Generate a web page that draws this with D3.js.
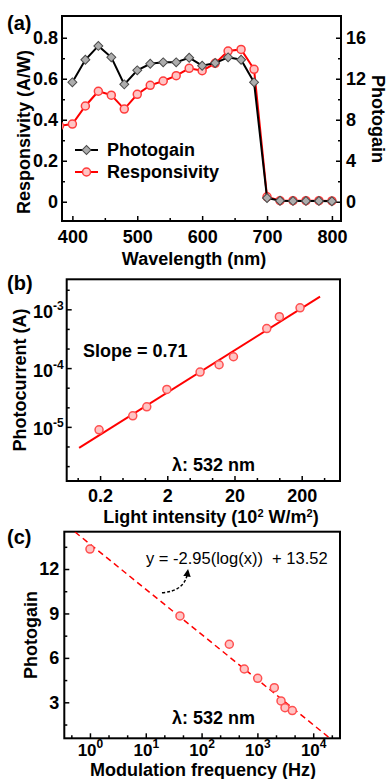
<!DOCTYPE html>
<html>
<head>
<meta charset="UTF-8" />
<title>Photodetector figure</title>
<script src="https://d3js.org/d3.v7.min.js"></script>
<style>
  body { margin: 0; background: #fff; }
  text { font-family: "Liberation Sans", Arial, sans-serif; font-weight: bold; }
</style>
</head>
<body>
<div id="fig"></div>
<script>
  // ---- (a) spectral response ----
  const gainWavelengths = [400, 420, 440, 460, 480, 500, 520, 540, 560, 580, 600, 620, 640, 660, 680, 700, 720, 740, 760, 780, 800];
  const photogain = [11.65, 13.85, 15.2, 14.09, 11.45, 12.82, 13.46, 13.6, 13.6, 14.05, 13.27, 13.53, 14.09, 13.85, 11.65, 0.36, 0.1, 0.08, 0.08, 0.08, 0.05];
  const respWavelengths = [380, 400, 420, 440, 460, 480, 500, 520, 540, 560, 580, 600, 620, 640, 660, 680, 700, 720, 740, 760, 780, 800];
  const responsivity = [0.37, 0.379, 0.467, 0.539, 0.52, 0.452, 0.524, 0.568, 0.589, 0.615, 0.651, 0.639, 0.675, 0.735, 0.743, 0.646, 0.024, 0.005, 0.005, 0.005, 0.005, 0.004];
  const aXTicks = [400, 500, 600, 700, 800];
  const aXMinor = [450, 550, 650, 750];
  const aLeftTicks = [0, 0.2, 0.4, 0.6, 0.8];
  const aLeftMinor = [0.1, 0.3, 0.5, 0.7];
  const aRightTicks = [0, 4, 8, 12, 16];
  const aRightMinor = [2, 6, 10, 14];

  // ---- (b) intensity dependence ----
  const intensity = [0.193, 0.613, 0.99, 1.97, 6.15, 11.8, 19.3, 60.4, 93, 189];
  const photocurrent = [8.9e-6, 1.54e-5, 2.19e-5, 4.34e-5, 8.55e-5, 1.14e-4, 1.56e-4, 4.7e-4, 7.5e-4, 1.06e-3];
  const fitB = [[0.0975, 4.4e-6], [375, 1.64e-3]];
  const bXTicks = [0.2, 2, 20, 200];
  const bXMinor = [0.0928, 0.431, 0.928, 4.31, 9.28, 43.1, 92.8, 431];
  const bYTicks = [1e-5, 1e-4, 1e-3];
  const bYMinor = [2.15e-6, 4.64e-6, 2.15e-5, 4.64e-5, 2.15e-4, 4.64e-4, 2.15e-3];

  // ---- (c) frequency dependence ----
  const frequency = [1, 41, 314, 582, 1012, 2010, 2650, 3125, 4220];
  const gainC = [13.35, 8.83, 6.92, 5.25, 4.62, 3.99, 3.09, 2.64, 2.44];
  const fitC = [[0.54, 14.5], [20000, 0.57]];
  const arrowC = [[19.5, 10.4], [50, 10.5], [56, 11.75]];
  const cXTicks = [1, 10, 100, 1000, 10000];
  const cXMinor = [0.464, 2.15, 4.64, 21.5, 46.4, 215, 464, 2154, 4642, 21544];
  const cYTicks = [3, 6, 9, 12];
  const cYMinor = [1.5, 4.5, 7.5, 10.5, 13.5];

  const svg = d3.select("#fig").append("svg")
    .attr("width", 387)
    .attr("height", 779);

  // draws one axis from a generator, ticks pointing inside the frame
  function addAxis(gen, tx, ty, fontSize) {
    const g = svg.append("g")
      .attr("transform", "translate(" + tx + "," + ty + ")")
      .call(gen);
    g.select(".domain").remove();
    g.selectAll("line").attr("stroke", "#000").attr("stroke-width", 1.5);
    g.selectAll("text")
      .attr("fill", "#000")
      .attr("font-size", fontSize || 18)
      .attr("font-family", '"Liberation Sans", Arial, sans-serif')
      .attr("font-weight", "bold");
    return g;
  }

  function frame(x0, y0, x1, y1) {
    svg.append("rect")
      .attr("x", x0).attr("y", y0)
      .attr("width", x1 - x0).attr("height", y1 - y0)
      .attr("fill", "none").attr("stroke", "#000").attr("stroke-width", 2);
  }

  function powLabels(g) {
    g.selectAll("text").each(function (d) {
      const t = d3.select(this);
      t.text(null);
      t.append("tspan").text("10");
      t.append("tspan").attr("dy", -8).attr("font-size", 12).text(Math.round(Math.log10(d)));
    });
  }

  // ================= panel (a) =================
  const ax = d3.scaleLinear().domain([384, 814]).range([62, 341]);
  const ayL = d3.scaleLinear().domain([-0.094, 0.906]).range([221, 16]);
  const ayR = d3.scaleLinear().domain([-1.88, 18.12]).range([221, 16]);

  svg.append("clipPath").attr("id", "clipA").append("rect")
    .attr("x", 62).attr("y", 16).attr("width", 279).attr("height", 205);

  addAxis(d3.axisBottom(ax).tickValues(aXTicks).tickSizeInner(-5).tickSizeOuter(0).tickPadding(9), 0, 221);
  addAxis(d3.axisBottom(ax).tickValues(aXMinor).tickSizeInner(-3).tickSizeOuter(0).tickFormat(""), 0, 221);
  addAxis(d3.axisLeft(ayL).tickValues(aLeftTicks).tickSizeInner(-5).tickSizeOuter(0).tickPadding(4)
    .tickFormat(d => d === 0 ? "0" : d3.format(".1f")(d)), 62, 0);
  addAxis(d3.axisLeft(ayL).tickValues(aLeftMinor).tickSizeInner(-3).tickSizeOuter(0).tickFormat(""), 62, 0);
  addAxis(d3.axisRight(ayR).tickValues(aRightTicks).tickSizeInner(-5).tickSizeOuter(0).tickPadding(5), 341, 0);
  addAxis(d3.axisRight(ayR).tickValues(aRightMinor).tickSizeInner(-3).tickSizeOuter(0).tickFormat(""), 341, 0);
  frame(62, 16, 341, 221);

  const respLine = d3.line().x((d, i) => ax(respWavelengths[i])).y(d => ayL(d));
  const gainLine = d3.line().x((d, i) => ax(gainWavelengths[i])).y(d => ayR(d));

  svg.append("path")
    .attr("clip-path", "url(#clipA)")
    .attr("d", respLine(responsivity))
    .attr("fill", "none").attr("stroke", "#ff0000").attr("stroke-width", 2);
  svg.append("g").attr("clip-path", "url(#clipA)")
    .selectAll("circle")
    .data(responsivity)
    .enter()
    .append("circle")
    .attr("cx", (d, i) => ax(respWavelengths[i]))
    .attr("cy", d => ayL(d))
    .attr("r", 4)
    .attr("fill", "#ffc4c4").attr("stroke", "#ff3b3b").attr("stroke-width", 1.5);

  svg.append("path")
    .attr("d", gainLine(photogain))
    .attr("fill", "none").attr("stroke", "#000").attr("stroke-width", 2);
  const diamond = d3.symbol().type(d3.symbolSquare).size(40);
  svg.append("g").selectAll("path")
    .data(photogain)
    .enter()
    .append("path")
    .attr("d", diamond)
    .attr("transform", (d, i) => "translate(" + ax(gainWavelengths[i]) + "," + ayR(d) + ") rotate(45)")
    .attr("fill", "#adadad").attr("stroke", "#4a4a4a").attr("stroke-width", 1);

  // legend
  const leg = svg.append("g");
  leg.append("line").attr("x1", 75).attr("x2", 98).attr("y1", 150).attr("y2", 150)
    .attr("stroke", "#000").attr("stroke-width", 2);
  leg.append("path").attr("d", diamond).attr("transform", "translate(86.5,150) rotate(45)")
    .attr("fill", "#adadad").attr("stroke", "#4a4a4a");
  leg.append("text").attr("x", 107).attr("y", 156).attr("font-size", 18).text("Photogain");
  leg.append("line").attr("x1", 75).attr("x2", 98).attr("y1", 172).attr("y2", 172)
    .attr("stroke", "#ff0000").attr("stroke-width", 2);
  leg.append("circle").attr("cx", 86.5).attr("cy", 172).attr("r", 4)
    .attr("fill", "#ffc4c4").attr("stroke", "#ff3b3b").attr("stroke-width", 1.5);
  leg.append("text").attr("x", 107).attr("y", 178).attr("font-size", 18).text("Responsivity");

  svg.append("text").attr("x", 7).attr("y", 30).attr("font-size", 20).text("(a)");
  svg.append("text").attr("x", 194).attr("y", 265).attr("text-anchor", "middle")
    .attr("font-size", 18).text("Wavelength (nm)");
  svg.append("text").attr("transform", "translate(30,132) rotate(-90)").attr("text-anchor", "middle")
    .attr("font-size", 18).text("Responsivity (A/W)");
  svg.append("text").attr("transform", "translate(372,119) rotate(90)").attr("text-anchor", "middle")
    .attr("font-size", 18).text("Photogain");

  // ================= panel (b) =================
  const bx = d3.scaleLog().domain([0.0637, 743]).range([66.7, 340]);
  const by = d3.scaleLog().domain([1.2e-6, 3.24e-3]).range([481, 279.3]);

  addAxis(d3.axisBottom(bx).tickValues(bXTicks).tickSizeInner(-5).tickSizeOuter(0).tickPadding(8)
    .tickFormat(d => String(d)), 0, 481);
  addAxis(d3.axisBottom(bx).tickValues(bXMinor).tickSizeInner(-3).tickSizeOuter(0).tickFormat(""), 0, 481);
  const byAxis = addAxis(d3.axisLeft(by).tickValues(bYTicks).tickSizeInner(-5).tickSizeOuter(0).tickPadding(3), 66.7, 0);
  powLabels(byAxis);
  byAxis.selectAll("text").attr("dy", "0.45em");
  addAxis(d3.axisLeft(by).tickValues(bYMinor).tickSizeInner(-3).tickSizeOuter(0).tickFormat(""), 66.7, 0);
  frame(66.7, 279.3, 340, 481);

  svg.append("path")
    .attr("d", d3.line().x(d => bx(d[0])).y(d => by(d[1]))(fitB))
    .attr("fill", "none").attr("stroke", "#ff0000").attr("stroke-width", 2);
  svg.append("g").selectAll("circle")
    .data(photocurrent)
    .enter()
    .append("circle")
    .attr("cx", (d, i) => bx(intensity[i]))
    .attr("cy", d => by(d))
    .attr("r", 4)
    .attr("fill", "#ffc4c4").attr("stroke", "#ff5050").attr("stroke-width", 1.5);

  svg.append("text").attr("x", 7).attr("y", 290).attr("font-size", 20).text("(b)");
  svg.append("text").attr("x", 83).attr("y", 357).attr("font-size", 18).text("Slope = 0.71");
  svg.append("text").attr("x", 172).attr("y", 471).attr("font-size", 18).text("λ: 532 nm");
  svg.append("text").attr("transform", "translate(26,380) rotate(-90)").attr("text-anchor", "middle")
    .attr("font-size", 18).text("Photocurrent (A)");
  const bTitle = svg.append("text").attr("x", 211).attr("y", 523).attr("text-anchor", "middle").attr("font-size", 18);
  bTitle.append("tspan").text("Light intensity (10");
  bTitle.append("tspan").attr("dy", -6).attr("font-size", 11).text("2");
  bTitle.append("tspan").attr("dy", 6).text(" W/m");
  bTitle.append("tspan").attr("dy", -6).attr("font-size", 11).text("2");
  bTitle.append("tspan").attr("dy", 6).text(")");

  // ================= panel (c) =================
  const cx = d3.scaleLog().domain([0.347, 30200]).range([64.3, 340]);
  const cy = d3.scaleLinear().domain([0.57, 14.52]).range([738.3, 531.7]);

  svg.append("clipPath").attr("id", "clipC").append("rect")
    .attr("x", 64.3).attr("y", 531.7).attr("width", 275.7).attr("height", 206.6);

  const cxAxis = addAxis(d3.axisBottom(cx).tickValues(cXTicks).tickSizeInner(-5).tickSizeOuter(0).tickPadding(6), 0, 738.3, 17);
  powLabels(cxAxis);
  cxAxis.selectAll("text").attr("dy", "0.66em");
  addAxis(d3.axisBottom(cx).tickValues(cXMinor).tickSizeInner(-3).tickSizeOuter(0).tickFormat(""), 0, 738.3);
  addAxis(d3.axisLeft(cy).tickValues(cYTicks).tickSizeInner(-5).tickSizeOuter(0).tickPadding(5), 64.3, 0);
  addAxis(d3.axisLeft(cy).tickValues(cYMinor).tickSizeInner(-3).tickSizeOuter(0).tickFormat(""), 64.3, 0);
  frame(64.3, 531.7, 340, 738.3);

  svg.append("path")
    .attr("clip-path", "url(#clipC)")
    .attr("d", d3.line().x(d => cx(d[0])).y(d => cy(d[1]))(fitC))
    .attr("fill", "none").attr("stroke", "#ff0000").attr("stroke-width", 1.5)
    .attr("stroke-dasharray", "6,4");
  svg.append("g").selectAll("circle")
    .data(gainC)
    .enter()
    .append("circle")
    .attr("cx", (d, i) => cx(frequency[i]))
    .attr("cy", d => cy(d))
    .attr("r", 4)
    .attr("fill", "#ffc4c4").attr("stroke", "#ff5050").attr("stroke-width", 1.5);

  // curved dashed arrow pointing to the equation
  svg.append("defs").append("marker")
    .attr("id", "head").attr("viewBox", "0 0 10 10").attr("refX", 5).attr("refY", 5)
    .attr("markerWidth", 5).attr("markerHeight", 5).attr("orient", "auto")
    .append("path").attr("d", "M0,0 L10,5 L0,10 z").attr("fill", "#000");
  const p = arrowC.map(d => [cx(d[0]), cy(d[1])]);
  svg.append("path")
    .attr("d", "M" + p[0] + " Q" + p[1] + " " + p[2])
    .attr("fill", "none").attr("stroke", "#000").attr("stroke-width", 1.5)
    .attr("stroke-dasharray", "3,2").attr("marker-end", "url(#head)");

  svg.append("text").attr("x", 146).attr("y", 564).attr("font-size", 16.5)
    .style("font-weight", "normal").style("white-space", "pre")
    .text("y = -2.95(log(x))  + 13.52");
  svg.append("text").attr("x", 7).attr("y", 544).attr("font-size", 20).text("(c)");
  svg.append("text").attr("x", 172).attr("y", 724).attr("font-size", 18).text("λ: 532 nm");
  svg.append("text").attr("transform", "translate(37,635) rotate(-90)").attr("text-anchor", "middle")
    .attr("font-size", 18).text("Photogain");
  svg.append("text").attr("x", 203).attr("y", 776).attr("text-anchor", "middle")
    .attr("font-size", 18).text("Modulation frequency (Hz)");
</script>
</body>
</html>
